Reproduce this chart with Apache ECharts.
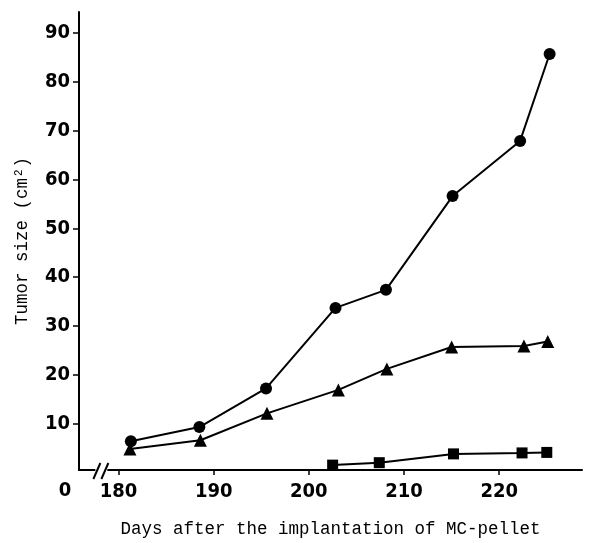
<!DOCTYPE html>
<html>
<head>
<meta charset="utf-8">
<script src="https://cdn.jsdelivr.net/npm/echarts@6/dist/echarts.min.js"></script>
<style>
html,body{margin:0;padding:0;background:#fff;}
#chart{width:596px;height:543px;}
</style>
</head>
<body>
<div id="chart"></div>
<script>
// Data
const daysMain = [181.3, 188.5, 195.5, 202.8, 208.1, 215.1, 222.2, 225.3];
const circleValues = [6.4, 9.3, 17.2, 33.7, 37.4, 56.6, 67.9, 85.7];
const daysTri = [181.2, 188.6, 195.6, 203.1, 208.2, 215.0, 222.6, 225.1];
const triangleValues = [4.8, 6.6, 12.1, 16.9, 21.2, 25.7, 25.9, 26.8];
const daysSquare = [202.5, 207.4, 215.2, 222.4, 225.0];
const squareValues = [1.5, 2.0, 3.8, 4.0, 4.1];
const xTicks = [180, 190, 200, 210, 220];
const yTicks = [10, 20, 30, 40, 50, 60, 70, 80, 90];

const pair = (xs, ys) => xs.map((x, i) => [x, ys[i]]);
const tickFont = "'Liberation Sans Narrow','DejaVu Sans Condensed','Liberation Sans',Arial,sans-serif";
const titleFont = "'Liberation Mono','DejaVu Sans Mono',monospace";

const chart = echarts.init(document.getElementById('chart'), null, {renderer: 'canvas'});
const lineStyle = {color: '#000', width: 2};
const option = {
  animation: false,
  backgroundColor: '#fff',
  grid: {left: 79, right: 14, top: 12, bottom: 71, containLabel: false},
  xAxis: {
    type: 'value', min: 175.85, max: 228.7,
    axisLine: {onZero: false, lineStyle: {color: '#000', width: 2}},
    axisTick: {show: true, length: 5, lineStyle: {color: '#000', width: 1.5}, customValues: xTicks},
    axisLabel: {customValues: xTicks, color: '#000', fontFamily: tickFont, fontWeight: 'bold', fontSize: 20, margin: 12},
    splitLine: {show: false},
    name: 'Days after the implantation of MC-pellet',
    nameLocation: 'middle', nameGap: 50,
    nameTextStyle: {color: '#000', fontFamily: titleFont, fontSize: 17.5}
  },
  yAxis: {
    type: 'value', min: 0.5, max: 94.3,
    axisLine: {onZero: false, lineStyle: {color: '#000', width: 2}},
    axisTick: {show: true, length: 6, lineStyle: {color: '#000', width: 1.5}, customValues: yTicks},
    axisLabel: {customValues: yTicks, color: '#000', fontFamily: tickFont, fontWeight: 'bold', fontSize: 20, margin: 9},
    splitLine: {show: false},
    name: 'Tumor size (cm²)',
    nameLocation: 'middle', nameGap: 48, nameRotate: 90,
    nameTextStyle: {color: '#000', fontFamily: titleFont, fontSize: 17.5}
  },
  series: [
    {type: 'line', data: pair(daysMain, circleValues), symbol: 'circle', symbolSize: 12,
     itemStyle: {color: '#000'}, lineStyle: lineStyle, z: 3},
    {type: 'line', data: pair(daysTri, triangleValues), symbol: 'triangle', symbolSize: 13,
     itemStyle: {color: '#000'}, lineStyle: lineStyle, z: 3},
    {type: 'line', data: pair(daysSquare, squareValues), symbol: 'rect', symbolSize: 11,
     itemStyle: {color: '#000'}, lineStyle: lineStyle, z: 3}
  ]
};
chart.setOption(option);

// axis break marks and origin label, positioned from the axes
const p0 = chart.convertToPixel({gridIndex: 0}, [178.2, 0.5]);
const pOrigin = chart.convertToPixel({gridIndex: 0}, [175.85, 0.5]);
const bx = p0[0], by = p0[1];
chart.setOption({
  graphic: [
    {type: 'rect', shape: {x: bx - 6, y: by - 3, width: 12, height: 6}, style: {fill: '#fff'}, z: 100},
    {type: 'line', shape: {x1: bx - 8, y1: by + 9, x2: bx - 1, y2: by - 7}, style: {stroke: '#000', lineWidth: 2}, z: 101},
    {type: 'line', shape: {x1: bx, y1: by + 9, x2: bx + 7, y2: by - 7}, style: {stroke: '#000', lineWidth: 2}, z: 101},
    {type: 'text', x: pOrigin[0] - 14, y: pOrigin[1] + 21,
     style: {text: '0', fill: '#000', font: "bold 20px " + tickFont, align: 'center', verticalAlign: 'middle'}, z: 101}
  ]
});
</script>
</body>
</html>
